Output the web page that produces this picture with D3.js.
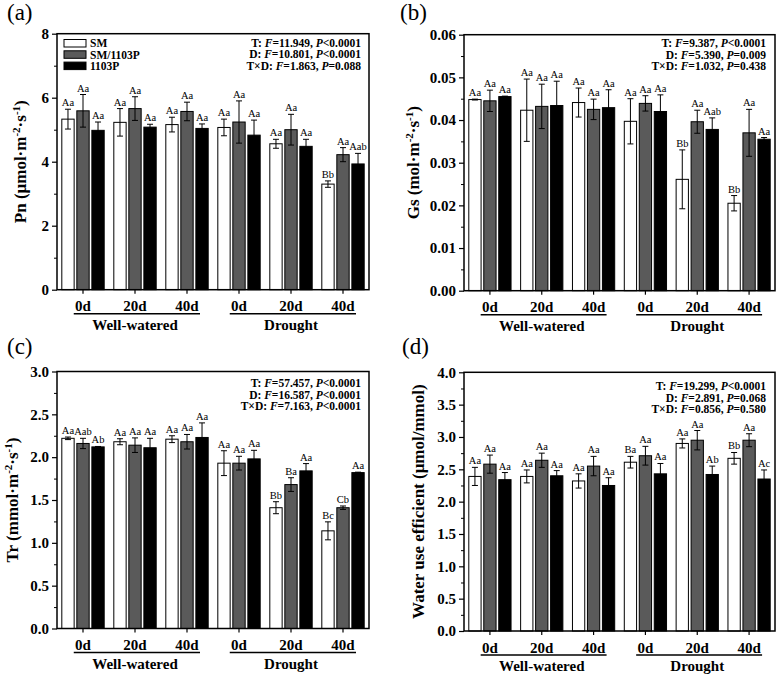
<!DOCTYPE html>
<html><head><meta charset="utf-8">
<script src="https://cdn.jsdelivr.net/npm/d3@7"></script>
<style>
body{margin:0;background:#fff;}
svg{display:block;}
svg text{font-family:"Liberation Serif","Times New Roman",serif !important;}
</style>
</head><body>
<svg id="chart" width="777" height="675"></svg>
<script>
// ---------- DATA ----------
const groups = ["WW-0d","WW-20d","WW-40d","D-0d","D-20d","D-40d"];
const dayLabels = ["0d","20d","40d","0d","20d","40d"];
const waterTreatments = ["Well-watered","Drought"];
const series = ["SM","SM/1103P","1103P"];

// Pn (umol m-2 s-1): rows = series, columns = groups
const pnMeans = [
  [5.33,5.23,5.16,5.07,4.56,3.30],
  [5.59,5.66,5.57,5.24,5.00,4.22],
  [4.98,5.08,5.04,4.83,4.48,3.93]
];
const pnErrs = [
  [0.31,0.43,0.23,0.26,0.14,0.10],
  [0.51,0.37,0.29,0.66,0.48,0.22],
  [0.26,0.09,0.14,0.47,0.22,0.33]
];
const pnLetters = [
  ["Aa","Aa","Aa","Aa","Aa","Bb"],
  ["Aa","Aa","Aa","Aa","Aa","Aa"],
  ["Aa","Aa","Aa","Aa","Aa","Aab"]
];
const pnStats = [["T","11.949","<","0.0001"],["D","10.801","<","0.0001"],["T×D","1.863","=","0.088"]];

// Gs (mol m-2 s-1)
const gsMeans = [
  [0.0448,0.0423,0.0441,0.0397,0.0261,0.0205],
  [0.0445,0.0432,0.0425,0.0439,0.0396,0.0370],
  [0.0455,0.0434,0.0429,0.0420,0.0378,0.0355]
];
const gsErrs = [
  [0.0001,0.0073,0.0034,0.0053,0.0069,0.0018],
  [0.0025,0.0052,0.0024,0.0018,0.0027,0.0055],
  [0.0001,0.0057,0.0042,0.0039,0.0027,0.0004]
];
const gsLetters = [
  ["Aa","Aa","Aa","Aa","Bb","Bb"],
  ["Aa","Aa","Aa","Aa","Aa","Aa"],
  ["Aa","Aa","Aa","Aa","Aab","Aa"]
];
const gsStats = [["T","9.387","<","0.0001"],["D","5.390","=","0.009"],["T×D","1.032","=","0.438"]];

// Tr (mmol m-2 s-1)
const trMeans = [
  [2.22,2.18,2.21,1.93,1.41,1.14],
  [2.16,2.14,2.18,1.93,1.68,1.41],
  [2.12,2.11,2.23,1.98,1.84,1.82]
];
const trErrs = [
  [0.015,0.035,0.04,0.145,0.07,0.105],
  [0.06,0.085,0.085,0.08,0.08,0.02],
  [0.005,0.11,0.17,0.10,0.085,0.005]
];
const trLetters = [
  ["Aa","Aa","Aa","Aa","Bb","Bc"],
  ["Aab","Aa","Aa","Aa","Ba","Cb"],
  ["Ab","Aa","Aa","Aa","Aa","Aa"]
];
const trStats = [["T","57.457","<","0.0001"],["D","16.587","<","0.0001"],["T×D","7.163","<","0.0001"]];

// WUE (umol/mmol)
const wueMeans = [
  [2.39,2.39,2.32,2.61,2.90,2.67],
  [2.58,2.64,2.55,2.71,2.95,2.95],
  [2.34,2.40,2.25,2.43,2.42,2.35]
];
const wueErrs = [
  [0.14,0.10,0.11,0.09,0.07,0.09],
  [0.14,0.11,0.15,0.145,0.15,0.10],
  [0.11,0.08,0.12,0.16,0.13,0.14]
];
const wueLetters = [
  ["Aa","Aa","Aa","Ba","Aa","Bb"],
  ["Aa","Aa","Aa","Aa","Aa","Aa"],
  ["Aa","Aa","Aa","Aa","Ab","Ac"]
];
const wueStats = [["T","19.299","<","0.0001"],["D","2.891","=","0.068"],["T×D","0.856","=","0.580"]];

const yTicksPn = [0,2,4,6,8];
const yTicksGs = [0,0.01,0.02,0.03,0.04,0.05,0.06];
const yTicksTr = [0,0.5,1.0,1.5,2.0,2.5,3.0];
const yTicksWue = [0,0.5,1.0,1.5,2.0,2.5,3.0,3.5,4.0];

// ---------- STYLE / LAYOUT ----------
const FONT = "'Liberation Serif','Times New Roman',serif";
const fills = ["#ffffff","#5a5a5a","#000000"];
const svg = d3.select("#chart");

const panels = [
  {tag:"(a)", tagX:7, tagY:20, left:57, right:369, top:33.7, bottom:289.7,
   ticks:yTicksPn, fmt:d3.format("d"), means:pnMeans, errs:pnErrs, letters:pnLetters, stats:pnStats,
   statsRight:361, statsY:46.5, titleX:20, title:["Pn (μmol·m","-2","·s","-1",")"], legend:true},
  {tag:"(b)", tagX:400, tagY:20, left:464, right:775, top:34.7, bottom:290.7,
   ticks:yTicksGs, fmt:d3.format(".2f"), means:gsMeans, errs:gsErrs, letters:gsLetters, stats:gsStats,
   statsRight:766, statsY:47, titleX:413, title:["Gs (mol·m","-2","·s","-1",")"]},
  {tag:"(c)", tagX:7, tagY:354, left:57, right:369, top:371.5, bottom:628.5,
   ticks:yTicksTr, fmt:d3.format(".1f"), means:trMeans, errs:trErrs, letters:trLetters, stats:trStats,
   statsRight:361, statsY:387, titleX:12, title:["Tr (mmol·m","-2","·s","-1",")"]},
  {tag:"(d)", tagX:402, tagY:354, left:464, right:775, top:372.3, bottom:631,
   ticks:yTicksWue, fmt:d3.format(".1f"), means:wueMeans, errs:wueErrs, letters:wueLetters, stats:wueStats,
   statsRight:766, statsY:390, titleX:418, title:["Water use efficient (μmol/mmol)"]}
];

panels.forEach(p => {
  const ymax = p.ticks[p.ticks.length-1];
  const step = p.ticks[1]-p.ticks[0];
  const y = d3.scaleLinear().domain([0, ymax]).range([p.bottom, p.top]);
  const x0 = d3.scaleBand().domain(groups).range([p.left, p.right]).paddingInner(0).paddingOuter(0);
  const x1 = d3.scaleBand().domain(series).range([0, x0.bandwidth()]).paddingInner(0.18).paddingOuter(0.32);

  const g = svg.append("g").attr("font-family", FONT);

  g.append("text").attr("x", p.tagX).attr("y", p.tagY).attr("font-size", 23).text(p.tag);

  series.forEach((s, si) => {
    groups.forEach((grp, gi) => {
      const m = p.means[si][gi], e = p.errs[si][gi];
      const bx = x0(grp) + x1(s);
      const bw = x1.bandwidth();
      g.append("rect")
        .attr("x", bx).attr("y", y(m)).attr("width", bw).attr("height", y(0) - y(m))
        .attr("fill", fills[si]).attr("stroke", "#000").attr("stroke-width", 1);
      const cx = bx + bw/2;
      const cap = 3;
      g.append("line").attr("x1", cx).attr("x2", cx).attr("y1", y(m-e)).attr("y2", y(m+e))
        .attr("stroke", "#000").attr("stroke-width", 1);
      [m-e, m+e].forEach(v => {
        g.append("line").attr("x1", cx-cap).attr("x2", cx+cap).attr("y1", y(v)).attr("y2", y(v))
          .attr("stroke", "#000").attr("stroke-width", 1);
      });
      g.append("text").attr("x", cx).attr("y", y(m+e) - 3)
        .attr("text-anchor", "middle").attr("font-size", 10.5).text(p.letters[si][gi]);
    });
  });

  g.append("rect").attr("x", p.left).attr("y", p.top).attr("width", p.right - p.left)
    .attr("height", p.bottom - p.top).attr("fill", "none").attr("stroke", "#000").attr("stroke-width", 1.5);

  const yAx = g.append("g").attr("transform", `translate(${p.left},0)`)
    .call(d3.axisLeft(y).tickValues(p.ticks).tickFormat(p.fmt).tickSize(5).tickPadding(3));
  yAx.attr("font-family", FONT);
  yAx.select(".domain").remove();
  yAx.selectAll("line").attr("stroke-width", 1.2);
  yAx.selectAll("text").attr("font-size", 15).attr("font-weight", "bold").attr("font-family", FONT);
  const minors = p.ticks.slice(0, -1).map(t => t + step/2);
  const yMin = g.append("g").attr("transform", `translate(${p.left},0)`)
    .call(d3.axisLeft(y).tickValues(minors).tickFormat("").tickSize(3));
  yMin.select(".domain").remove();
  yMin.selectAll("line").attr("stroke-width", 1);

  const xAx = g.append("g").attr("transform", `translate(0,${p.bottom})`)
    .call(d3.axisBottom(x0).tickFormat((d, i) => dayLabels[i]).tickSize(4).tickPadding(7));
  xAx.attr("font-family", FONT);
  xAx.select(".domain").remove();
  xAx.selectAll("line").attr("stroke-width", 1.2);
  const xt = xAx.selectAll("text").attr("font-size", 15).attr("font-weight", "bold").attr("font-family", FONT);

  const nodes = xt.nodes();
  waterTreatments.forEach((wt, wi) => {
    const b1 = nodes[wi*3].getBBox(), b2 = nodes[wi*3+2].getBBox();
    const c1 = x0(groups[wi*3]) + x0.bandwidth()/2;
    const c3 = x0(groups[wi*3+2]) + x0.bandwidth()/2;
    const xs = c1 - b1.width/2 - 1, xe = c3 + b2.width/2 + 1;
    g.append("line").attr("x1", xs).attr("x2", xe).attr("y1", p.bottom + 24).attr("y2", p.bottom + 24)
      .attr("stroke", "#000").attr("stroke-width", 1.5);
    const mid = x0(groups[wi*3+1]) + x0.bandwidth()/2;
    g.append("text").attr("x", mid).attr("y", p.bottom + 40).attr("text-anchor", "middle")
      .attr("font-size", 15).attr("font-weight", "bold").text(wt);
  });

  const yc = (p.top + p.bottom)/2;
  const tt = g.append("text").attr("transform", `translate(${p.titleX},${yc}) rotate(-90)`)
    .attr("text-anchor", "middle").attr("dy", "0.35em").attr("font-size", 17).attr("font-weight", "bold");
  if (p.title.length === 1) {
    tt.text(p.title[0]);
  } else {
    tt.append("tspan").text(p.title[0]);
    tt.append("tspan").attr("dy", -6).attr("font-size", 11).text(p.title[1]);
    tt.append("tspan").attr("dy", 6).text(p.title[2]);
    tt.append("tspan").attr("dy", -6).attr("font-size", 11).text(p.title[3]);
    tt.append("tspan").attr("dy", 6).text(p.title[4]);
  }

  p.stats.forEach((st, i) => {
    const t = g.append("text").attr("x", p.statsRight).attr("y", p.statsY + i*11.7)
      .attr("text-anchor", "end").attr("font-size", 11.5).attr("font-weight", "bold");
    t.append("tspan").text(st[0] + ": ");
    t.append("tspan").attr("font-style", "italic").text("F");
    t.append("tspan").text("=" + st[1] + ", ");
    t.append("tspan").attr("font-style", "italic").text("P");
    t.append("tspan").text(st[2] + st[3]);
  });

  if (p.legend) {
    series.forEach((s, si) => {
      const ly = 39.5 + si*11.3;
      g.append("rect").attr("x", 64).attr("y", ly).attr("width", 22).attr("height", 7.5)
        .attr("fill", fills[si]).attr("stroke", "#000").attr("stroke-width", 1);
      g.append("text").attr("x", 90).attr("y", ly + 7.8).attr("font-size", 11.5)
        .attr("font-weight", "bold").text(s);
    });
  }
});
</script>
</body></html>
